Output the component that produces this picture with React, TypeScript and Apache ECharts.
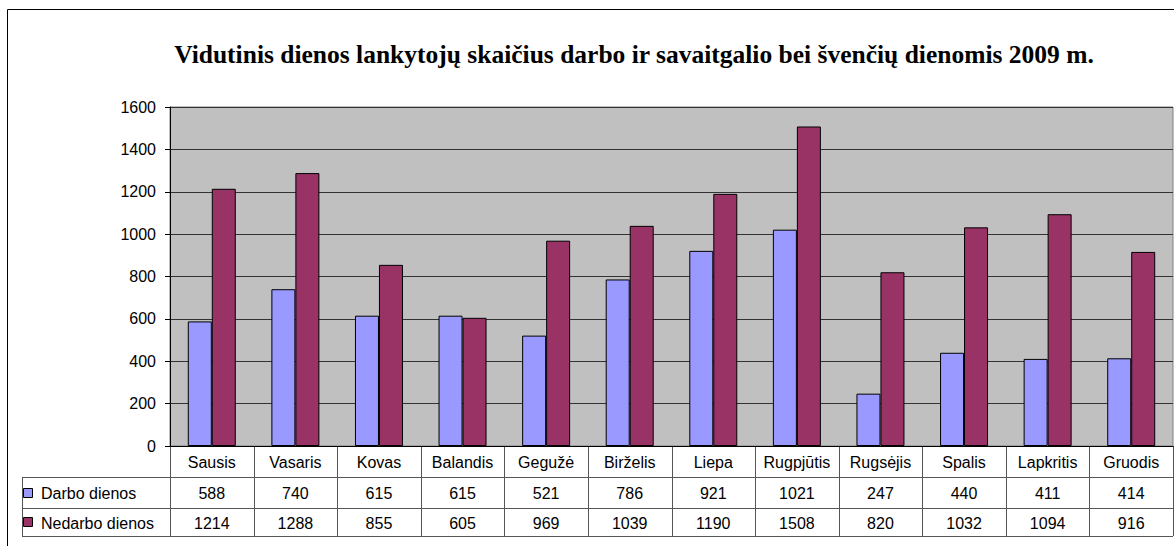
import React, { useEffect, useRef } from "react";
import * as echarts from "echarts";

const title = "Vidutinis dienos lankytojų skaičius darbo ir savaitgalio bei švenčių dienomis 2009 m.";
const categories = ["Sausis", "Vasaris", "Kovas", "Balandis", "Gegužė", "Birželis", "Liepa", "Rugpjūtis", "Rugsėjis", "Spalis", "Lapkritis", "Gruodis"];
const seriesNames = ["Darbo dienos", "Nedarbo dienos"];
const darbo = [588, 740, 615, 615, 521, 786, 921, 1021, 247, 440, 411, 414];
const nedarbo = [1214, 1288, 855, 605, 969, 1039, 1190, 1508, 820, 1032, 1094, 916];
const colors = ["#9999FF", "#993366"];

const W = 1174;
const H = 546;
const GL = 170;
const GR = 1173;
const GT = 107;
const GB = 446;
const ROW1 = 477;
const ROW2 = 508;
const ROW3 = 536;
const TL = 22;
const FONT = "'Liberation Sans', Arial, sans-serif";
const FS = 16;

export default function App() {
  const ref = useRef<HTMLDivElement>(null);
  useEffect(() => {
    if (!ref.current) return;
    const chart = echarts.init(ref.current, null, { renderer: "svg" });
    const option: any = {
      animation: false,
      backgroundColor: "#ffffff",
      title: {
        text: title,
        left: 629,
        textAlign: "center",
        top: 36,
        textStyle: { fontFamily: "'Liberation Serif', 'Times New Roman', serif", fontWeight: "bold", fontSize: 25.5, color: "#000" },
      },
      grid: { left: GL, right: W - GR, top: GT, bottom: H - GB, show: true, backgroundColor: "#C0C0C0", borderColor: "#808080", borderWidth: 1 },
      xAxis: {
        type: "category",
        data: categories,
        axisLine: { lineStyle: { color: "#000" } },
        axisTick: { show: false },
        axisLabel: { color: "#000", fontFamily: FONT, fontSize: FS, margin: 8, interval: 0 },
      },
      yAxis: {
        type: "value",
        min: 0,
        max: 1600,
        interval: 200,
        axisLine: { show: true, lineStyle: { color: "#000" } },
        axisTick: { show: true, length: 5, lineStyle: { color: "#000" } },
        axisLabel: { color: "#000", fontFamily: FONT, fontSize: FS, margin: 14, formatter: (v: number) => String(v) },
        splitLine: { lineStyle: { color: "#333", width: 1 } },
      },
      series: [
        { name: seriesNames[0], type: "bar", data: darbo, barWidth: 24, barGap: "0%", itemStyle: { color: colors[0], borderColor: "#000", borderWidth: 1 } },
        { name: seriesNames[1], type: "bar", data: nedarbo, barWidth: 24, barGap: "0%", itemStyle: { color: colors[1], borderColor: "#000", borderWidth: 1 } },
      ],
    };
    chart.setOption(option);

    const bw = (GR - GL) / categories.length;
    const g: any[] = [];
    g.push({ type: "rect", shape: { x: 7.5, y: 9.5, width: 1200, height: 600 }, style: { fill: "none", stroke: "#000", lineWidth: 1 }, silent: true });
    const lineStyle = { stroke: "#555", lineWidth: 1 };
    g.push({ type: "line", shape: { x1: GL, y1: ROW1 + 0.5, x2: GR, y2: ROW1 + 0.5 }, style: lineStyle });
    g.push({ type: "line", shape: { x1: TL, y1: ROW1 + 0.5, x2: GL, y2: ROW1 + 0.5 }, style: lineStyle });
    g.push({ type: "line", shape: { x1: TL, y1: ROW2 + 0.5, x2: GR, y2: ROW2 + 0.5 }, style: lineStyle });
    g.push({ type: "line", shape: { x1: TL, y1: ROW3 + 0.5, x2: GR, y2: ROW3 + 0.5 }, style: lineStyle });
    g.push({ type: "line", shape: { x1: TL + 0.5, y1: ROW1, x2: TL + 0.5, y2: ROW3 }, style: lineStyle });
    for (let i = 0; i <= categories.length; i++) {
      const x = Math.round(GL + i * bw) + 0.5;
      g.push({ type: "line", shape: { x1: x, y1: GB, x2: x, y2: ROW3 }, style: lineStyle });
    }
    const rows = [ROW1, ROW2];
    const rowsEnd = [ROW2, ROW3];
    [darbo, nedarbo].forEach((vals, s) => {
      const cy = (rows[s] + rowsEnd[s]) / 2;
      g.push({ type: "rect", shape: { x: 23.5, y: Math.round(cy) - 4.5, width: 9, height: 9 }, style: { fill: colors[s], stroke: "#000", lineWidth: 1 } });
      g.push({ type: "text", x: 41, y: cy + 1, style: { text: seriesNames[s], font: `${FS}px ${FONT}`, fill: "#000", textVerticalAlign: "middle" } });
      vals.forEach((v, i) => {
        const cx = chart.convertToPixel({ xAxisIndex: 0 }, categories[i]) as number;
        g.push({ type: "text", x: cx, y: cy + 1, style: { text: String(v), font: `${FS}px ${FONT}`, fill: "#000", textAlign: "center", textVerticalAlign: "middle" } });
      });
    });
    chart.setOption({ graphic: g });
    return () => chart.dispose();
  }, []);
  return <div ref={ref} style={{ position: "fixed", left: 0, top: 0, width: W, height: H }} />;
}
